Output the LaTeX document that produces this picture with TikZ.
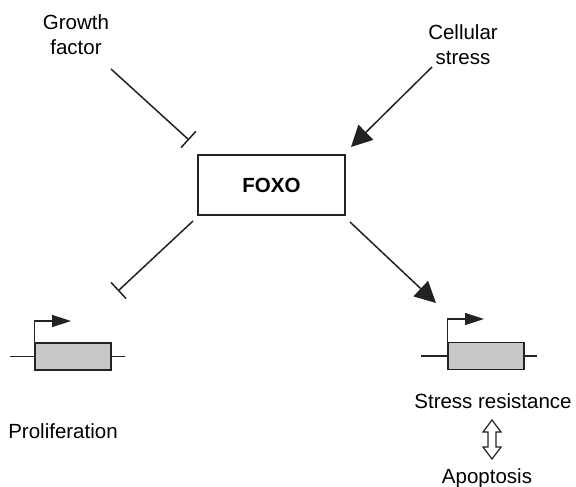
\documentclass[tikz,border=0pt]{standalone}
\usepackage{fontspec}
\setmainfont{Liberation Sans}
\usetikzlibrary{arrows.meta}
\definecolor{linegray}{HTML}{222222}
\definecolor{genefill}{HTML}{C8C8C8}
\tikzset{
  lbl/.style={font=\fontsize{20.5}{25}\selectfont, align=center, inner sep=0pt, text=black},
  conn/.style={line width=1.5pt, draw=linegray},
  inhib/.style={conn, -{Bar[width=22pt,line width=1.5pt]}},
  activ/.style={conn, -{Triangle[length=21pt,width=21pt]}},
  genebox/.style={draw=linegray, line width=1.5pt, fill=genefill, minimum width=76pt, minimum height=27pt, inner sep=0pt},
  promoter/.style={conn, -{Triangle[length=19pt,width=12pt]}},
}
\begin{document}
\begin{tikzpicture}[x=1pt,y=-1pt]
\useasboundingbox (0,0) rectangle (576,487);
% labels
\node[lbl] (growth) at (76,35) {Growth\\factor};
\node[lbl] (cell) at (463,45) {Cellular\\stress};
\node[draw=linegray, line width=1.5pt, minimum width=147pt, minimum height=60pt, inner sep=0pt,
      font=\fontsize{20.5}{25}\selectfont\bfseries] (foxo) at (271.5,185) {FOXO};
\node[lbl, anchor=base] (prolif) at (63,438) {Proliferation};
\node[lbl, anchor=base] (stressres) at (493,408) {Stress resistance};
\node[lbl, anchor=base] (apop) at (487,483) {Apoptosis};
% connector endpoints
\coordinate (gfA) at (111,69);
\coordinate (gfB) at (189,140);
\coordinate (csA) at (432,67);
\coordinate (csB) at (351,147);
\coordinate (flA) at (193,221);
\coordinate (flB) at (118,291);
\coordinate (frA) at (350,222);
\coordinate (frB) at (436,303);
\draw[inhib] (gfA) -- (gfB);
\draw[activ] (csA) -- (csB);
\draw[inhib] (flA) -- (flB);
\draw[activ] (frA) -- (frB);
% genes
\node[genebox] (geneL) at (73,356.5) {};
\node[genebox] (geneR) at (486,356) {};
\coordinate (gLl) at (10,356.5);
\coordinate (gLr) at (125,356.5);
\coordinate (gRl) at (421,356);
\coordinate (gRr) at (537,356);
\draw[conn] (gLl) -- (geneL.west);
\draw[conn] (geneL.east) -- (gLr);
\draw[conn] (gRl) -- (geneR.west);
\draw[conn] (geneR.east) -- (gRr);
\coordinate (pLt) at (71,321);
\coordinate (pRt) at (484,319);
\draw[promoter] (geneL.north west) |- (pLt);
\draw[promoter] (geneR.north west) |- (pRt);
% double arrow between stress resistance and apoptosis
\draw[line width=1.2pt, draw=linegray, fill=white]
  (492,420) -- (501,432) -- (496,432) -- (496,447) -- (501,447) -- (492,459)
  -- (483,447) -- (488,447) -- (488,432) -- (483,432) -- cycle;
\end{tikzpicture}
\end{document}
